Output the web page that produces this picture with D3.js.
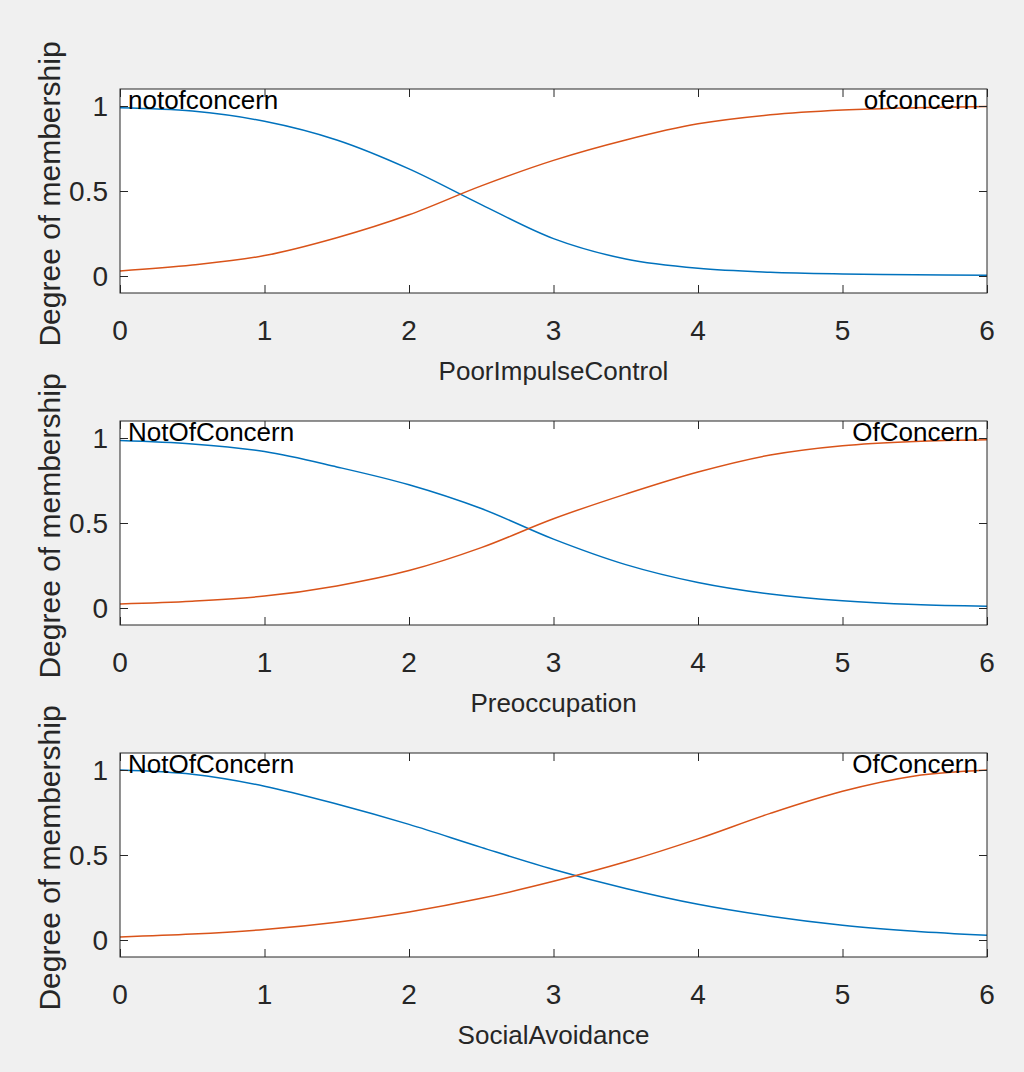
<!DOCTYPE html>
<html>
<head>
<meta charset="utf-8">
<script src="https://cdnjs.cloudflare.com/ajax/libs/d3/7.8.5/d3.min.js"></script>
<style>
  html, body { margin: 0; padding: 0; background: #f0f0f0; }
  .container { width: 1024px; height: 1072px; }
  text { font-family: "Liberation Sans", Arial, Helvetica, sans-serif; }
</style>
</head>
<body>
<div class="container"></div>
<script>
const xValues = [0, 0.5, 1, 1.5, 2, 2.5, 3, 3.5, 4, 4.5, 5, 5.5, 6];

// PoorImpulseControl
const poorImpulseLow  = [0.99, 0.97, 0.91, 0.80, 0.63, 0.42, 0.22, 0.10, 0.045, 0.022, 0.012, 0.007, 0.004];
const poorImpulseHigh = [0.03, 0.065, 0.12, 0.225, 0.36, 0.53, 0.68, 0.80, 0.895, 0.948, 0.976, 0.99, 0.997];

// Preoccupation
const preoccupationLow  = [0.985, 0.965, 0.92, 0.83, 0.725, 0.585, 0.405, 0.255, 0.15, 0.082, 0.042, 0.02, 0.01];
const preoccupationHigh = [0.024, 0.04, 0.07, 0.13, 0.22, 0.355, 0.525, 0.67, 0.80, 0.9, 0.955, 0.98, 0.99];

// SocialAvoidance
const socialLow  = [1.0, 0.975, 0.905, 0.80, 0.68, 0.545, 0.415, 0.303, 0.21, 0.14, 0.087, 0.052, 0.028];
const socialHigh = [0.018, 0.035, 0.062, 0.105, 0.165, 0.245, 0.345, 0.46, 0.595, 0.745, 0.875, 0.965, 1.0];

const inputNames = ["PoorImpulseControl", "Preoccupation", "SocialAvoidance"];
const lowNames = ["notofconcern", "NotOfConcern", "NotOfConcern"];
const highNames = ["ofconcern", "OfConcern", "OfConcern"];

const xTicks = [0, 1, 2, 3, 4, 5, 6];
const yTicks = [0, 0.5, 1];
const yLabel = "Degree of membership";

const panels = [
  { name: inputNames[0], low: poorImpulseLow, high: poorImpulseHigh, lowName: lowNames[0], highName: highNames[0] },
  { name: inputNames[1], low: preoccupationLow, high: preoccupationHigh, lowName: lowNames[1], highName: highNames[1] },
  { name: inputNames[2], low: socialLow, high: socialHigh, lowName: lowNames[2], highName: highNames[2] }
];

// MATLAB default colours
const blue = "#0072BD";
const orange = "#D95319";
const axisColor = "#262626";

const width = 1024;
const height = 1072;
const left = 120;
const right = 987;
const panelTops = [89, 421, 753];
const panelHeight = 204;
const tickLen = 8;

const svg = d3.select(".container")
  .append("svg")
  .attr("width", width)
  .attr("height", height);

svg.append("rect")
  .attr("width", width)
  .attr("height", height)
  .attr("fill", "#f0f0f0");

const x = d3.scaleLinear().domain([0, 6]).range([left, right]);

panels.forEach((p, i) => {
  const top = panelTops[i];
  const bottom = top + panelHeight;
  const y = d3.scaleLinear().domain([-0.1, 1.1]).range([bottom, top]);

  const g = svg.append("g").attr("class", "panel");

  // white plot area
  g.append("rect")
    .attr("x", left)
    .attr("y", top)
    .attr("width", right - left)
    .attr("height", panelHeight)
    .attr("fill", "#ffffff");

  // curves
  const line = d3.line()
    .x((d, k) => x(xValues[k]))
    .y(d => y(d))
    .curve(d3.curveCatmullRom);

  g.append("path")
    .datum(p.low)
    .attr("d", line)
    .attr("fill", "none")
    .attr("stroke", blue)
    .attr("stroke-width", 1.5);

  g.append("path")
    .datum(p.high)
    .attr("d", line)
    .attr("fill", "none")
    .attr("stroke", orange)
    .attr("stroke-width", 1.5);

  // axes with inward ticks (bottom/top, left/right)
  const xAxisBottom = d3.axisTop(x).tickValues(xTicks).tickSize(tickLen).tickFormat("");
  const xAxisTop = d3.axisBottom(x).tickValues(xTicks).tickSize(tickLen).tickFormat("");
  const yAxisLeft = d3.axisRight(y).tickValues(yTicks).tickSize(tickLen).tickFormat("");
  const yAxisRight = d3.axisLeft(y).tickValues(yTicks).tickSize(tickLen).tickFormat("");

  [
    g.append("g").attr("transform", `translate(0,${bottom})`).call(xAxisBottom),
    g.append("g").attr("transform", `translate(0,${top})`).call(xAxisTop),
    g.append("g").attr("transform", `translate(${left},0)`).call(yAxisLeft),
    g.append("g").attr("transform", `translate(${right},0)`).call(yAxisRight)
  ].forEach(a => {
    a.select(".domain").remove();
    a.selectAll("line").attr("stroke", axisColor).attr("stroke-width", 1);
  });

  // box
  g.append("rect")
    .attr("x", left)
    .attr("y", top)
    .attr("width", right - left)
    .attr("height", panelHeight)
    .attr("fill", "none")
    .attr("stroke", axisColor)
    .attr("stroke-width", 1);

  // tick labels
  g.selectAll(".xlab")
    .data(xTicks)
    .enter()
    .append("text")
    .attr("x", d => x(d))
    .attr("y", bottom + 47)
    .attr("text-anchor", "middle")
    .attr("font-size", 28)
    .attr("fill", axisColor)
    .text(d => d);

  g.selectAll(".ylab")
    .data(yTicks)
    .enter()
    .append("text")
    .attr("x", left - 12)
    .attr("y", d => y(d))
    .attr("dy", "0.36em")
    .attr("text-anchor", "end")
    .attr("font-size", 28)
    .attr("fill", axisColor)
    .text(d => d);

  // axis labels
  g.append("text")
    .attr("x", (left + right) / 2)
    .attr("y", bottom + 87)
    .attr("text-anchor", "middle")
    .attr("font-size", 26)
    .attr("fill", axisColor)
    .text(p.name);

  g.append("text")
    .attr("transform", `translate(60,${(top + bottom) / 2 + 3}) rotate(-90)`)
    .attr("text-anchor", "middle")
    .attr("font-size", 30)
    .attr("fill", axisColor)
    .text(yLabel);

  // membership function names
  g.append("text")
    .attr("x", x(0) + 8)
    .attr("y", y(1) + 3)
    .attr("font-size", 26)
    .attr("fill", "#000")
    .text(p.lowName);

  g.append("text")
    .attr("x", x(6) - 9)
    .attr("y", y(1) + 3)
    .attr("text-anchor", "end")
    .attr("font-size", 26)
    .attr("fill", "#000")
    .text(p.highName);
});
</script>
</body>
</html>
